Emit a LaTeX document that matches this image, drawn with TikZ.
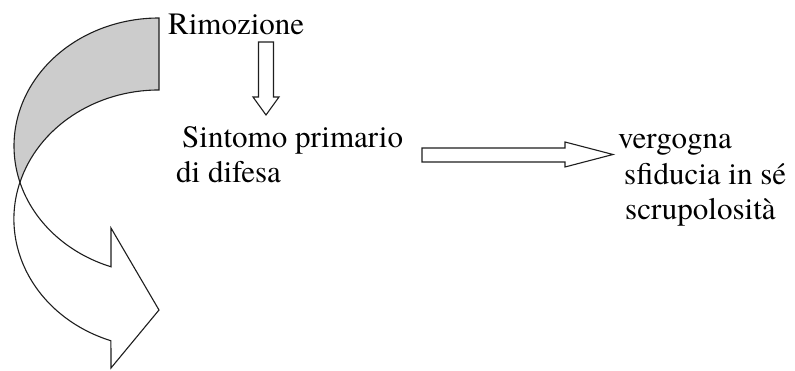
\documentclass[tikz,border=0pt]{standalone}
\usepackage{fontspec}
\setmainfont{TeX Gyre Termes}
\definecolor{bandgrey}{RGB}{204,204,204}
\definecolor{edge}{RGB}{30,30,30}
\begin{document}
\begin{tikzpicture}[x=1pt,y=1pt,
  lbl/.style={anchor=base west, inner sep=0pt, font=\rmfamily\fontsize{31}{36}\selectfont},
  outl/.style={draw=edge, line width=1.1pt, line join=miter},
  blockarrow/.style={outl, fill=white}]
\useasboundingbox (0,0) rectangle (795,371);
% curved arrow: back band (grey)
\coordinate (top) at (159,353);
\coordinate (junc) at (19.9,188.6);
\filldraw[outl, fill=bandgrey] (top)
  arc[start angle=90, end angle=196.5, x radius=145pt, y radius=128pt]
  arc[start angle=163.5, end angle=90, x radius=145pt, y radius=129pt] -- cycle;
% curved arrow: front band with head
\coordinate (neckout) at (111,30.3);
\coordinate (headbot) at (111,3);
\coordinate (headtip) at (159,61);
\coordinate (headtop) at (111,143);
\coordinate (neckin) at (111,104.2);
\filldraw[blockarrow] (junc)
  arc[start angle=163.5, end angle=250.67, x radius=145pt, y radius=129pt]
  -- (headbot) -- (headtip) -- (headtop) -- (neckin)
  arc[start angle=250.67, end angle=196.5, x radius=145pt, y radius=128pt] -- cycle;
% texts
\node[lbl] (rim) at (168,336) {Rimozione};
\node[lbl] (sint) at (182,223) {Sintomo primario};
\node[lbl] (dif) at (176,188) {di difesa};
\node[lbl] (verg) at (618,222) {vergogna};
\node[lbl] (sfid) at (624,186) {sfiducia in sé};
\node[lbl] (scru) at (625,151) {scrupolosità};
% down block arrow
\filldraw[blockarrow] (258.5,329) -- (273.5,329) -- (273.5,274) -- (279,274)
  -- (266,256) -- (253,274) -- (258.5,274) -- cycle;
% right block arrow
\filldraw[blockarrow] (422,223) -- (565,223) -- (565,229) -- (613,216.5)
  -- (565,204) -- (565,209) -- (422,209) -- cycle;
\end{tikzpicture}
\end{document}
